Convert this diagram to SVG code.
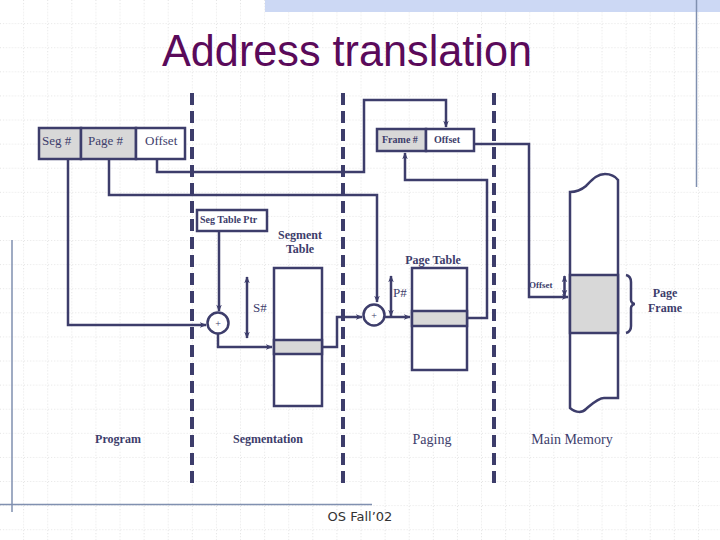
<svg xmlns="http://www.w3.org/2000/svg" width="720" height="540" viewBox="0 0 720 540">
<defs>
<pattern id="grid" x="0" y="0" width="24.1" height="24.1" patternUnits="userSpaceOnUse">
<path d="M24.1 0V24.1M0 24.1H24.1" fill="none" stroke="#c8c8c8" stroke-width="1" stroke-dasharray="1 2"/>
</pattern>
<marker id="arr" viewBox="0 0 10 10" refX="9" refY="5" markerWidth="7" markerHeight="7" orient="auto-start-reverse" markerUnits="userSpaceOnUse">
<path d="M0 1L10 5L0 9L3 5Z" fill="#3d3d6b"/>
</marker>
</defs>
<style>
.ln{fill:none;stroke:#3d3d6b;stroke-width:2.5}
.box{fill:#fff;stroke:#3d3d6b;stroke-width:2.5}
.gr{fill:#d8d8d8;stroke:#3d3d6b;stroke-width:2.5}
.dash{fill:none;stroke:#3d3d6b;stroke-width:4;stroke-dasharray:12 6}
.t{font-family:"Liberation Serif",serif;fill:#3d3d6b}
.b{font-weight:bold}
.deco{stroke:#8090b0;stroke-width:1.5;fill:none}
</style>
<rect width="720" height="540" fill="#fff"/>
<rect width="720" height="540" fill="url(#grid)"/>
<rect x="265" y="0" width="455" height="12" fill="#ccd8f4"/>
<path class="deco" d="M696.5 0V187"/>
<path class="deco" d="M12 240V512M0 504.5H372"/>
<text x="347" y="66" text-anchor="middle" font-family="Liberation Sans,sans-serif" font-size="44" fill="#5a0a5a" textLength="370" lengthAdjust="spacingAndGlyphs">Address translation</text>

<g id="dividers">
<path class="dash" d="M192 93V487M343 93V487M494 93V487"/>
</g>

<g id="logical-address">
<rect class="gr" x="39" y="128" width="42" height="31"/>
<rect class="gr" x="81" y="128" width="55" height="31"/>
<rect class="box" x="136" y="128" width="49" height="31"/>
<text class="t" x="42" y="145" font-size="13">Seg #</text>
<text class="t" x="88" y="145" font-size="13">Page #</text>
<text class="t" x="145" y="145" font-size="13">Offset</text>
</g>

<g id="physical-address">
<rect class="gr" x="377" y="129" width="49" height="22"/>
<rect class="box" x="426" y="129" width="48" height="22"/>
<text class="t b" x="382" y="143" font-size="10">Frame #</text>
<text class="t b" x="434" y="143" font-size="10">Offset</text>
</g>

<g id="seg-table-ptr">
<rect class="box" x="197" y="210" width="70" height="21"/>
<text class="t b" x="200" y="223" font-size="10">Seg Table Ptr</text>
</g>

<g id="seg-adder">
<circle class="box" cx="218" cy="323" r="10.5"/>
<text class="t" x="218" y="327" font-size="10" text-anchor="middle">+</text>
</g>

<g id="page-adder">
<circle class="box" cx="374" cy="315" r="10.5"/>
<text class="t" x="374" y="319" font-size="10" text-anchor="middle">+</text>
</g>

<g id="segment-table">
<rect class="box" x="274" y="268" width="48" height="138"/>
<rect class="gr" x="274" y="340" width="48" height="14"/>
<text class="t b" x="300" y="239" font-size="12" text-anchor="middle">Segment</text>
<text class="t b" x="300" y="253" font-size="12" text-anchor="middle">Table</text>
</g>

<g id="page-table">
<rect class="box" x="412" y="268" width="55" height="102"/>
<rect class="gr" x="412" y="311" width="55" height="15"/>
<text class="t b" x="433" y="264" font-size="12" text-anchor="middle">Page Table</text>
</g>

<g id="main-memory">
<path class="box" d="M570 192C576 192 580 191 586 186C592 180 597 174 605 174C611 174 615 176 618 180V398H604C598 398 592 404 586 409C582 413 576 413 570 408Z"/>
<rect class="gr" x="570" y="275" width="48" height="58"/>
<path class="ln" d="M626 275C630 276 631 278 631 282V300C631 302 633 304 635 304C633 304 631 306 631 308V326C631 330 630 332 626 333" stroke-width="2"/>
<text class="t b" x="665" y="297" font-size="12" text-anchor="middle">Page</text>
<text class="t b" x="665" y="312" font-size="12" text-anchor="middle">Frame</text>
</g>

<g id="connectors">
<path class="ln" d="M157 159V172H364V100H446V127" marker-end="url(#arr)"/>
<path class="ln" d="M109 159V195H377V302" marker-end="url(#arr)"/>
<path class="ln" d="M68 159V325H206" marker-end="url(#arr)"/>
<path class="ln" d="M219 231V311" marker-end="url(#arr)"/>
<path class="ln" d="M218 334V347H272" marker-end="url(#arr)"/>
<path class="ln" d="M322 347H337V317H362" marker-end="url(#arr)"/>
<path class="ln" d="M385 317H410" marker-end="url(#arr)"/>
<path class="ln" d="M467 318H487V180H405V153" marker-end="url(#arr)"/>
<path class="ln" d="M474 144H529V297H568" marker-end="url(#arr)"/>
<path class="ln" d="M247 277V338" marker-start="url(#arr)" marker-end="url(#arr)"/>
<path class="ln" d="M391 276V316" marker-start="url(#arr)" marker-end="url(#arr)"/>
<path class="ln" d="M564.5 276V296" stroke-width="2" marker-start="url(#arr)" marker-end="url(#arr)"/>
</g>

<g id="labels">
<text class="t" x="253" y="312" font-size="13">S#</text>
<text class="t" x="393" y="297" font-size="13">P#</text>
<text class="t b" x="529" y="288" font-size="9">Offset</text>
<text class="t b" x="118" y="443" font-size="12" text-anchor="middle">Program</text>
<text class="t b" x="268" y="443" font-size="12" text-anchor="middle">Segmentation</text>
<text class="t" x="432" y="444" font-size="14" text-anchor="middle">Paging</text>
<text class="t" x="572" y="444" font-size="14" text-anchor="middle">Main Memory</text>
<text x="360" y="521" font-family="DejaVu Sans,sans-serif" font-size="13" fill="#333" text-anchor="middle">OS Fall’02</text>
</g>
</svg>
